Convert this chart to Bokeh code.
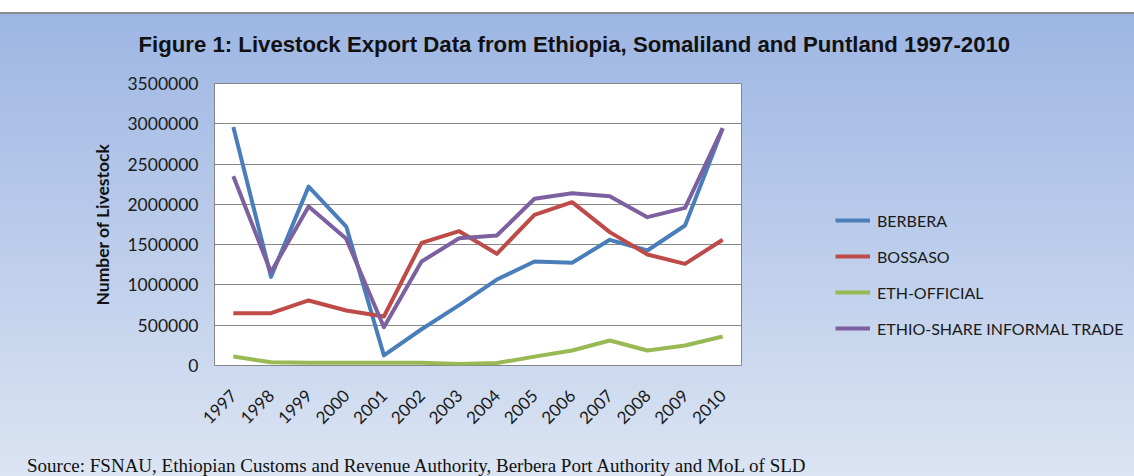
from math import pi
from bokeh.plotting import figure
from bokeh.layouts import column
from bokeh.models import (FactorRange, Range1d, FixedTicker, BasicTickFormatter,
                          Legend, LegendItem, Title, Div, ColumnDataSource)
from bokeh.embed import file_html
from bokeh.resources import INLINE

years = ["1997", "1998", "1999", "2000", "2001", "2002", "2003",
         "2004", "2005", "2006", "2007", "2008", "2009", "2010"]
berbera = [2960000, 1100000, 2220000, 1725000, 125000, 450000, 750000,
           1067000, 1290000, 1275000, 1560000, 1427000, 1738000, 2940000]
bossaso = [650000, 650000, 807000, 683000, 608000, 1523000, 1667000,
           1386000, 1870000, 2027000, 1655000, 1378000, 1262000, 1560000]
eth_official = [112000, 40000, 35000, 35000, 35000, 35000, 20000,
                30000, 110000, 186000, 310000, 186000, 248000, 360000]
ethio_share = [2350000, 1158000, 1973000, 1572000, 475000, 1290000, 1580000,
               1613000, 2069000, 2139000, 2101000, 1841000, 1957000, 2945000]
series_names = ["BERBERA", "BOSSASO", "ETH-OFFICIAL", "ETHIO-SHARE INFORMAL TRADE"]
y_ticks = [0, 500000, 1000000, 1500000, 2000000, 2500000, 3000000, 3500000]

title_text = "Figure 1: Livestock Export Data from Ethiopia, Somaliland and Puntland 1997-2010"
source_text = "Source: FSNAU, Ethiopian Customs and Revenue Authority, Berbera Port Authority and MoL of SLD"

colors = ["#4A7EBB", "#BE4B48", "#98B954", "#7D60A0"]

p = figure(x_range=FactorRange(*years), y_range=Range1d(0, 3500000),
           frame_width=527, frame_height=282,
           min_border_left=214, min_border_right=393,
           min_border_top=83, min_border_bottom=90,
           output_backend="svg", toolbar_location=None)

p.border_fill_alpha = 0
p.background_fill_color = "#ffffff"
p.outline_line_color = "#868686"
p.outline_line_width = 1

p.xgrid.grid_line_color = None
p.ygrid.grid_line_color = "#878787"
p.ygrid.grid_line_width = 1

p.yaxis.ticker = FixedTicker(ticks=y_ticks)
p.yaxis.formatter = BasicTickFormatter(use_scientific=False)
for ax in (p.xaxis[0], p.yaxis[0]):
    ax.axis_line_color = None
    ax.major_tick_line_color = None
    ax.minor_tick_line_color = None
    ax.major_tick_out = 0
    ax.major_tick_in = 0
    ax.major_label_text_color = "#1a1a1a"
    ax.major_label_text_font = "Lato"

p.yaxis.major_label_text_font_size = "17.5px"
p.yaxis.major_label_standoff = 16
p.yaxis.axis_label = "Number of Livestock"
p.yaxis.axis_label_text_font = "Lato"
p.yaxis.axis_label_text_font_style = "bold"
p.yaxis.axis_label_text_font_size = "17.5px"
p.yaxis.axis_label_text_color = "#111111"
p.yaxis.axis_label_standoff = 11

p.xaxis.major_label_orientation = pi / 4
p.xaxis.major_label_text_font_size = "17px"
p.xaxis.major_label_standoff = 27

items = []
for name, vals, col in zip(series_names, [berbera, bossaso, eth_official, ethio_share], colors):
    src = ColumnDataSource(dict(x=years, y=vals))
    r = p.line(x="x", y="y", source=src, line_color=col, line_width=4, line_join="round")
    items.append(LegendItem(label=name, renderers=[r]))

legend = Legend(items=items, location=(94, 27), orientation="vertical",
                glyph_width=35, glyph_height=20, label_height=20,
                label_standoff=7, spacing=16, padding=0, margin=0,
                border_line_color=None, background_fill_alpha=0,
                label_text_font="Lato", label_text_font_size="16px",
                label_text_color="#1a1a1a")
p.add_layout(legend, "right")

title = Title(text=title_text, align="left", offset=-76, standoff=54,
              vertical_align="bottom",
              text_font="Liberation Sans", text_font_size="22.2px",
              text_font_style="bold", text_color="#111111")
p.add_layout(title, "above")

source = Div(text=source_text, width=1112, height=21,
             styles={"font-family": "'Liberation Serif', 'Times New Roman', serif",
                     "font-size": "19px", "line-height": "11px",
                     "padding-left": "22px", "color": "#111111",
                     "white-space": "nowrap", "overflow": "visible"})

layout = column(p, source, spacing=0)
layout.styles = {
    "background": "linear-gradient(to bottom, #ffffff 0px, #ffffff 12px, #8a8a8a 12px, #8a8a8a 14px, #9db6e3 14px, #dce5f3 100%)",
}

open("out.html", "w").write(file_html(layout, INLINE))
